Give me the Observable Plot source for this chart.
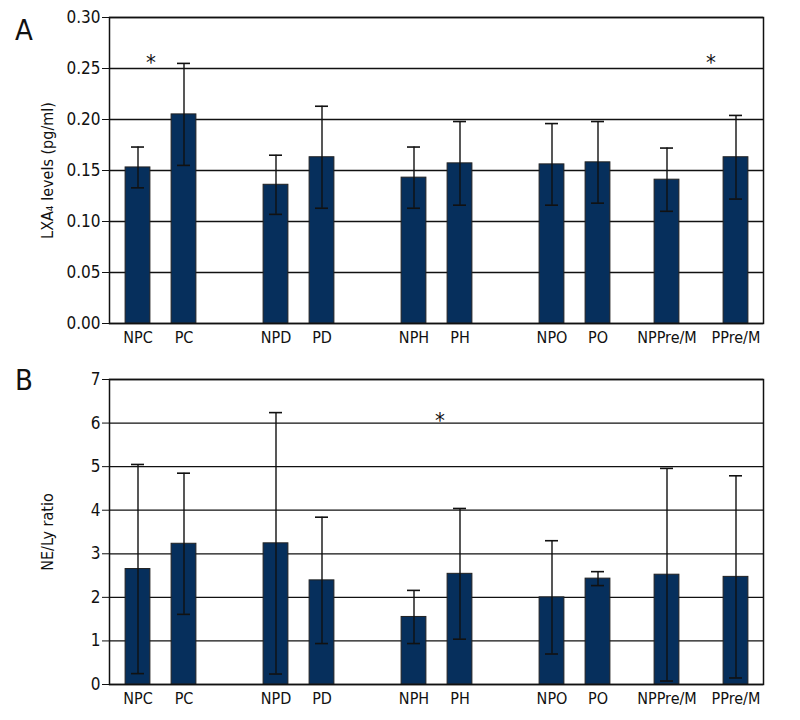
<!DOCTYPE html>
<html><head><meta charset="utf-8">
<script src="https://cdn.jsdelivr.net/npm/d3@7"></script>
<script src="https://cdn.jsdelivr.net/npm/@observablehq/plot@0.6"></script>
<style>
body{margin:0;background:#fff;}
#wrap{position:relative;width:800px;height:720px;font-family:"Liberation Sans Narrow","DejaVu Sans Condensed","Roboto Condensed","Open Sans Condensed",sans-serif;font-stretch:condensed;}
#wrap svg{display:block;font-stretch:condensed;}
.letter{position:absolute;font-size:29px;line-height:1;color:#111;}
</style></head><body>
<div id="wrap">
  <div id="pA"></div>
  <div id="pB"></div>
  <div class="letter" style="left:15px;top:16px">A</div>
  <div class="letter" style="left:15px;top:366px">B</div>
</div>
<script>
const categories = ["NPC","PC","NPD","PD","NPH","PH","NPO","PO","NPPre/M","PPre/M"];
const slots = ["NPC","s1","PC","s2","s3","s4","NPD","s5","PD","s6","s7","s8","NPH","s9","PH","s10","s11","s12",
               "NPO","s13","PO","s14","s15","NPPre/M","s16","s17","PPre/M"];
const lxa4Mean = [0.153,0.205,0.136,0.163,0.143,0.157,0.156,0.158,0.141,0.163];
const lxa4SD   = [0.020,0.050,0.029,0.050,0.030,0.041,0.040,0.040,0.031,0.041];
const nelyMean = [2.65,3.23,3.24,2.39,1.55,2.54,2.00,2.43,2.52,2.47];
const nelySD   = [2.40,1.62,3.00,1.45,0.61,1.50,1.30,0.16,2.44,2.32];
const yTicksA = [0,0.05,0.10,0.15,0.20,0.25,0.30];
const yTicksB = [0,1,2,3,4,5,6,7];
const labelA = "LXA₄ levels (pg/ml)";
const labelB = "NE/Ly ratio";
const FONT = '"Liberation Sans Narrow","DejaVu Sans Condensed","Roboto Condensed","Open Sans Condensed",sans-serif';

function panel({mean, sd, ticks, fmt, label, height, mt, mb, stars}) {
  const rows = categories.map((c,i)=>({cat:c, v:mean[i], lo:mean[i]-sd[i], hi:mean[i]+sd[i]}));
  const ymax = ticks[ticks.length-1];
  const ink = "#111";
  return Plot.plot({
    width:800, height, marginTop:mt, marginBottom:mb, marginLeft:109, marginRight:37,
    style:{fontFamily:FONT, fontSize:"17px", color:ink, background:"#fff", overflow:"visible"},
    x:{type:"band", domain:slots, paddingInner:0, paddingOuter:0.5, label:null},
    y:{domain:[0,ymax], label:null},
    marks:[
      Plot.gridY(ticks, {stroke:ink, strokeOpacity:1, strokeWidth:1.3}),
      Plot.barY(rows, {x:"cat", y:"v", fill:"#062f5c", stroke:"#222", strokeWidth:1, insetLeft:-0.9, insetRight:-0.9}),
      Plot.ruleX(rows, {x:"cat", y1:"lo", y2:"hi", stroke:ink, strokeWidth:1.4}),
      Plot.tickY(rows, {x:"cat", y:"lo", stroke:ink, strokeWidth:1.6, insetLeft:5, insetRight:5}),
      Plot.tickY(rows, {x:"cat", y:"hi", stroke:ink, strokeWidth:1.6, insetLeft:5, insetRight:5}),
      Plot.axisY({ticks, tickFormat:fmt, tickSize:7, tickPadding:2, label:null, fontSize:17, stroke:ink}),
      Plot.axisX({ticks:categories, tickSize:0, tickPadding:8, label:null, fontSize:16}),
      Plot.frame({stroke:ink, strokeWidth:1.5}),
      Plot.text([label], {frameAnchor:"left", textAnchor:"middle", rotate:-90, dx:-62, fontSize:16, fill:ink}),
      ...stars.map(s => Plot.text([s], {x:"cat", y:"y", dx:s.dx, text:()=>"*", fontSize:22, fill:ink}))
    ]
  });
}

document.getElementById("pA").append(panel({
  mean:lxa4Mean, sd:lxa4SD, ticks:yTicksA, fmt:d3.format(".2f"), label:labelA,
  height:345, mt:17, mb:22,
  stars:[{cat:"NPC", y:0.255, dx:13},{cat:"PPre/M", y:0.255, dx:-25}]
}));
document.getElementById("pB").append(panel({
  mean:nelyMean, sd:nelySD, ticks:yTicksB, fmt:d3.format("d"), label:labelB,
  height:375, mt:34, mb:36,
  stars:[{cat:"PH", y:6.05, dx:-20}]
}));
</script>
</body></html>
